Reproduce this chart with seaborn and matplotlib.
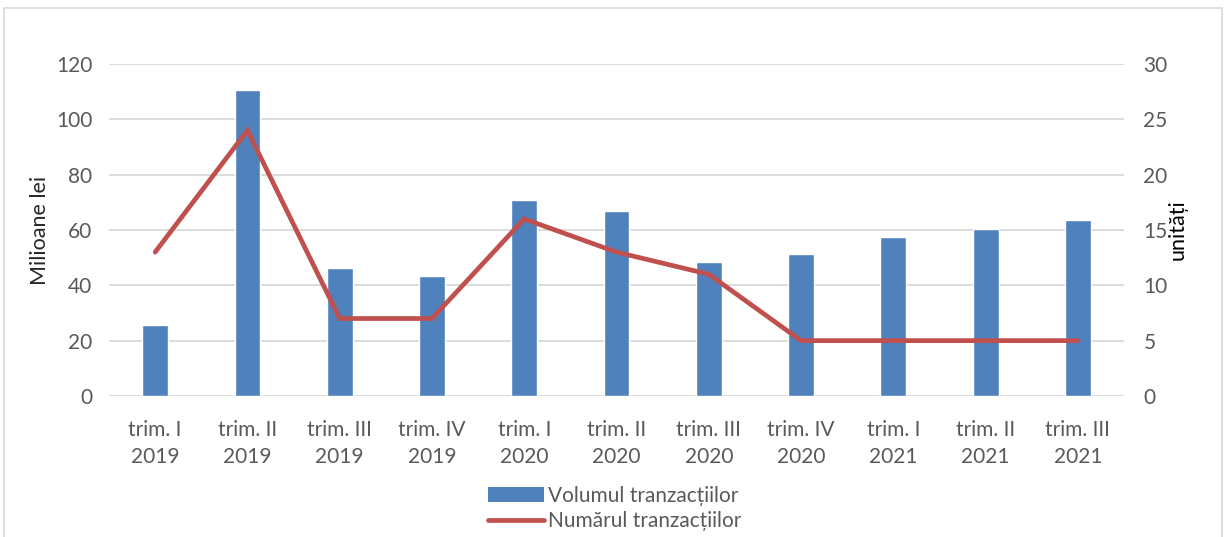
import matplotlib
matplotlib.use("Agg")
import matplotlib.pyplot as plt
import seaborn as sns
import pandas as pd
from matplotlib.patches import Patch, Rectangle
from matplotlib.lines import Line2D

categories = ["trim. I\n2019", "trim. II\n2019", "trim. III\n2019", "trim. IV\n2019",
              "trim. I\n2020", "trim. II\n2020", "trim. III\n2020", "trim. IV\n2020",
              "trim. I\n2021", "trim. II\n2021", "trim. III\n2021"]
volum = [25.7, 110.6, 46.3, 43.4, 70.8, 66.9, 48.4, 51.3, 57.5, 60.4, 63.6]
numar = [13, 24, 7, 7, 16, 13, 11, 5, 5, 5, 5]
left_ticks = [0, 20, 40, 60, 80, 100, 120]
right_ticks = [0, 5, 10, 15, 20, 25, 30]

df = pd.DataFrame({"cat": categories, "volum": volum, "numar": numar})

sns.set_theme(style="white")
plt.rcParams["font.family"] = ["Lato", "DejaVu Sans"]

bar_color = "#4F81BD"
line_color = "#C0504D"
tick_color = "#595959"

fig = plt.figure(figsize=(12.29, 5.37), dpi=100)
ax = fig.add_axes([0.0887, 0.2626, 0.8259, 0.6182])
fig.patches.append(Rectangle((4 / 1229, -0.05), 1218 / 1229, 1.05 - 8 / 537, transform=fig.transFigure,
                             fill=False, edgecolor="#d9d9d9", linewidth=1.2))

sns.barplot(data=df, x="cat", y="volum", color=bar_color, width=0.28, ax=ax, saturation=1)
ax.set_ylim(0, 120)
ax.set_yticks(left_ticks)
ax.set_xlim(-0.5, len(categories) - 0.5)
ax.yaxis.grid(True, color="#d9d9d9", linewidth=1.3)
ax.set_axisbelow(True)
for s in ax.spines.values():
    s.set_visible(False)
ax.tick_params(axis="x", length=0, labelsize=15, labelcolor=tick_color, pad=17)
ax.tick_params(axis="y", length=0, labelsize=15, labelcolor=tick_color, pad=12)
for lbl in ax.get_xticklabels():
    lbl.set_linespacing(1.45)
ax.set_xlabel("")
ax.set_ylabel("Milioane lei", fontsize=15.5, color="#262626", labelpad=4)

ax2 = ax.twinx()
sns.lineplot(x=list(range(len(categories))), y=numar, color=line_color, linewidth=3.4,
             ax=ax2, sort=False, solid_capstyle="round", solid_joinstyle="miter")
ax2.set_ylim(0, 30)
ax2.set_yticks(right_ticks)
ax2.set_xlim(-0.5, len(categories) - 0.5)
for s in ax2.spines.values():
    s.set_visible(False)
ax2.tick_params(axis="y", length=0, labelsize=15, labelcolor=tick_color, pad=14)
ax2.set_ylabel("unități", fontsize=15.5, color="#000000", rotation=90, labelpad=0)
ax2.grid(False)

handles = [Patch(facecolor=bar_color, edgecolor="none"),
           Line2D([0], [0], color=line_color, linewidth=3.4, solid_capstyle="round")]
labels = ["Volumul tranzacțiilor", "Numărul tranzacțiilor"]
fig.legend(handles, labels, loc="center", bbox_to_anchor=(0.5, 0.053), ncol=1, frameon=False,
           fontsize=15, labelcolor=tick_color, handlelength=2.7, handleheight=0.75,
           handletextpad=0.15, labelspacing=0.25, borderaxespad=0)

fig.savefig("out.png", dpi=100)
